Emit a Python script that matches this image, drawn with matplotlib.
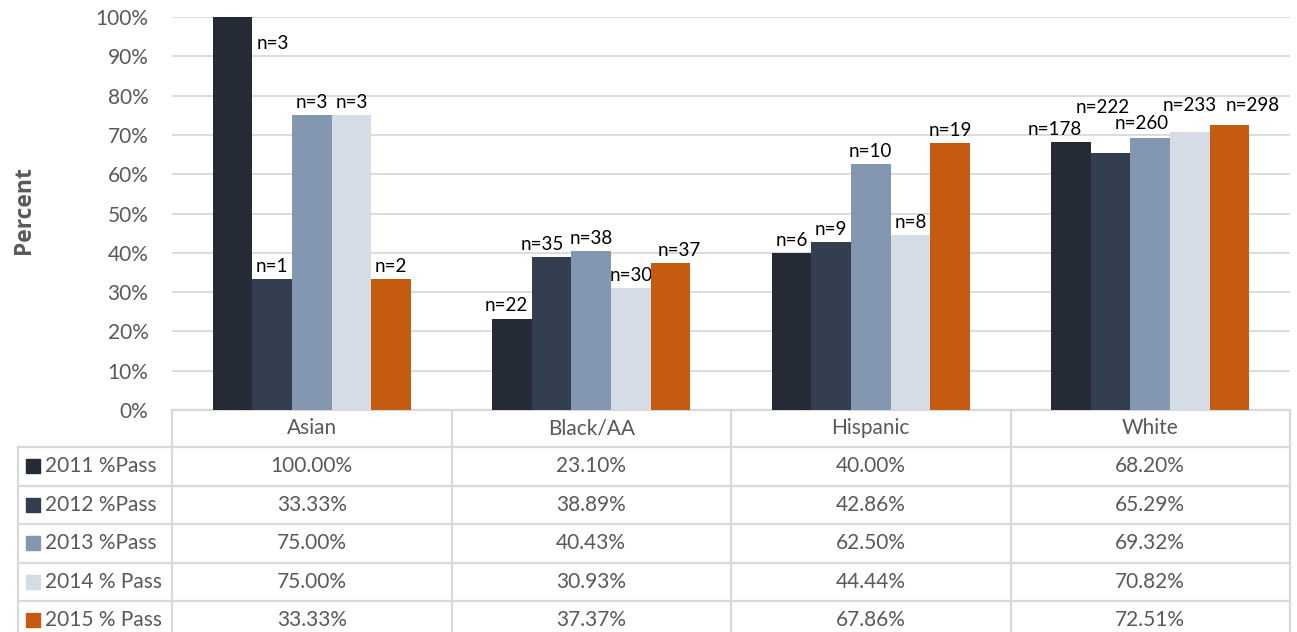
import numpy as np
import matplotlib.pyplot as plt
from matplotlib.patches import Rectangle
from matplotlib.transforms import blended_transform_factory

plt.rcParams['font.family'] = ['Lato', 'DejaVu Sans']

groups = ['Asian', 'Black/AA', 'Hispanic', 'White']
series = ['2011 %Pass', '2012 %Pass', '2013 %Pass', '2014 % Pass', '2015 % Pass']
colors = ['#242b36', '#333e50', '#8497b0', '#d6dce5', '#c55a11']

pass_2011 = [100.00, 23.10, 40.00, 68.20]
pass_2012 = [33.33, 38.89, 42.86, 65.29]
pass_2013 = [75.00, 40.43, 62.50, 69.32]
pass_2014 = [75.00, 30.93, 44.44, 70.82]
pass_2015 = [33.33, 37.37, 67.86, 72.51]

n_2011 = [3, 22, 6, 178]
n_2012 = [1, 35, 9, 222]
n_2013 = [3, 38, 10, 260]
n_2014 = [3, 30, 8, 233]
n_2015 = [2, 37, 19, 298]

values = [pass_2011, pass_2012, pass_2013, pass_2014, pass_2015]
counts = [n_2011, n_2012, n_2013, n_2014, n_2015]

# label nudges (dx, dy) in points where the labels were moved apart
nudge = {
    (0, 1): (-4, 1), (1, 1): (-7, 0), (4, 1): (6, 0),
    (0, 3): (-12, 0), (1, 3): (-6, 24), (2, 3): (-6, 1),
    (3, 3): (0, 10), (4, 3): (17, 5),
}

grey = '#595959'
line = '#d9d9d9'

fig = plt.figure(figsize=(12.97, 6.32), dpi=100)
ax = fig.add_axes([172 / 1297, 1 - 410 / 632, 1118 / 1297, 393 / 632])

x = np.arange(len(groups))
bar_w = 0.1417
for i, (vals, ns) in enumerate(zip(values, counts)):
    pos = x + (i - 2) * bar_w
    ax.bar(pos, vals, bar_w, color=colors[i], zorder=3)
    for j in range(len(groups)):
        if vals[j] >= 99.9:
            # full bar: put the label beside the top
            ax.annotate('n=%d' % ns[j], (pos[j] + bar_w / 2, vals[j]),
                        xytext=(3, -19), textcoords='offset points',
                        ha='left', va='center', fontsize=13.5, color='black')
            continue
        dx, dy = nudge.get((i, j), (0, 0))
        ax.annotate('n=%d' % ns[j], (pos[j], vals[j]),
                    xytext=(dx, 9 + dy), textcoords='offset points',
                    ha='center', va='center', fontsize=13.5, color='black')

ax.set_xlim(-0.5, len(groups) - 0.5)
ax.set_ylim(0, 100)
ax.set_yticks(np.arange(0, 101, 10))
ax.set_yticklabels(['%d%%' % v for v in range(0, 101, 10)], fontsize=15, color=grey)
ax.tick_params(axis='y', length=0, pad=17)
ax.set_xticks([])
ax.grid(axis='y', color=line, linewidth=1.3, zorder=0)
for s in ax.spines.values():
    s.set_visible(False)
ax.set_ylabel('Percent', fontsize=16.5, fontweight='bold', color=grey,
              family=['Open Sans', 'DejaVu Sans'])
ax.yaxis.label.set_va('center')
ax.yaxis.set_label_coords(-0.1324, 0.508)

# data table under the plot
tr = blended_transform_factory(ax.transData, ax.transAxes)
head_h = 37 / 393
row_h = 38.5 / 393
left_x = (18 - 172) / 1118
edges = np.arange(len(groups) + 1) - 0.5
lkw = dict(color=line, linewidth=1.6, clip_on=False, zorder=1)

bottom = -head_h - row_h * len(series)
ax.plot([edges[0], edges[-1]], [0, 0], transform=tr, **lkw)
for e in edges:
    ax.plot([e, e], [0, bottom], transform=tr, **lkw)
ax.plot([left_x, left_x], [-head_h, bottom], transform=ax.transAxes, **lkw)
for r in range(len(series) + 1):
    yy = -head_h - r * row_h
    ax.plot([left_x, 0], [yy, yy], transform=ax.transAxes, **lkw)
    ax.plot([edges[0], edges[-1]], [yy, yy], transform=tr, **lkw)

for j, g in enumerate(groups):
    ax.text(x[j], -head_h / 2, g, transform=tr, ha='center', va='center',
            fontsize=15, color=grey)

sq_w = 14 / 1118
sq_h = 14 / 393
for i, name in enumerate(series):
    yc = -head_h - (i + 0.5) * row_h
    ax.add_patch(Rectangle(((26 - 172) / 1118, yc - sq_h / 2), sq_w, sq_h,
                           transform=ax.transAxes, color=colors[i], clip_on=False))
    ax.text((45 - 172) / 1118, yc, name, transform=ax.transAxes, ha='left',
            va='center', fontsize=15, color=grey)
    for j in range(len(groups)):
        ax.text(x[j], yc, '%.2f%%' % values[i][j], transform=tr, ha='center',
                va='center', fontsize=15, color=grey)

fig.savefig('out.png', dpi=100)
